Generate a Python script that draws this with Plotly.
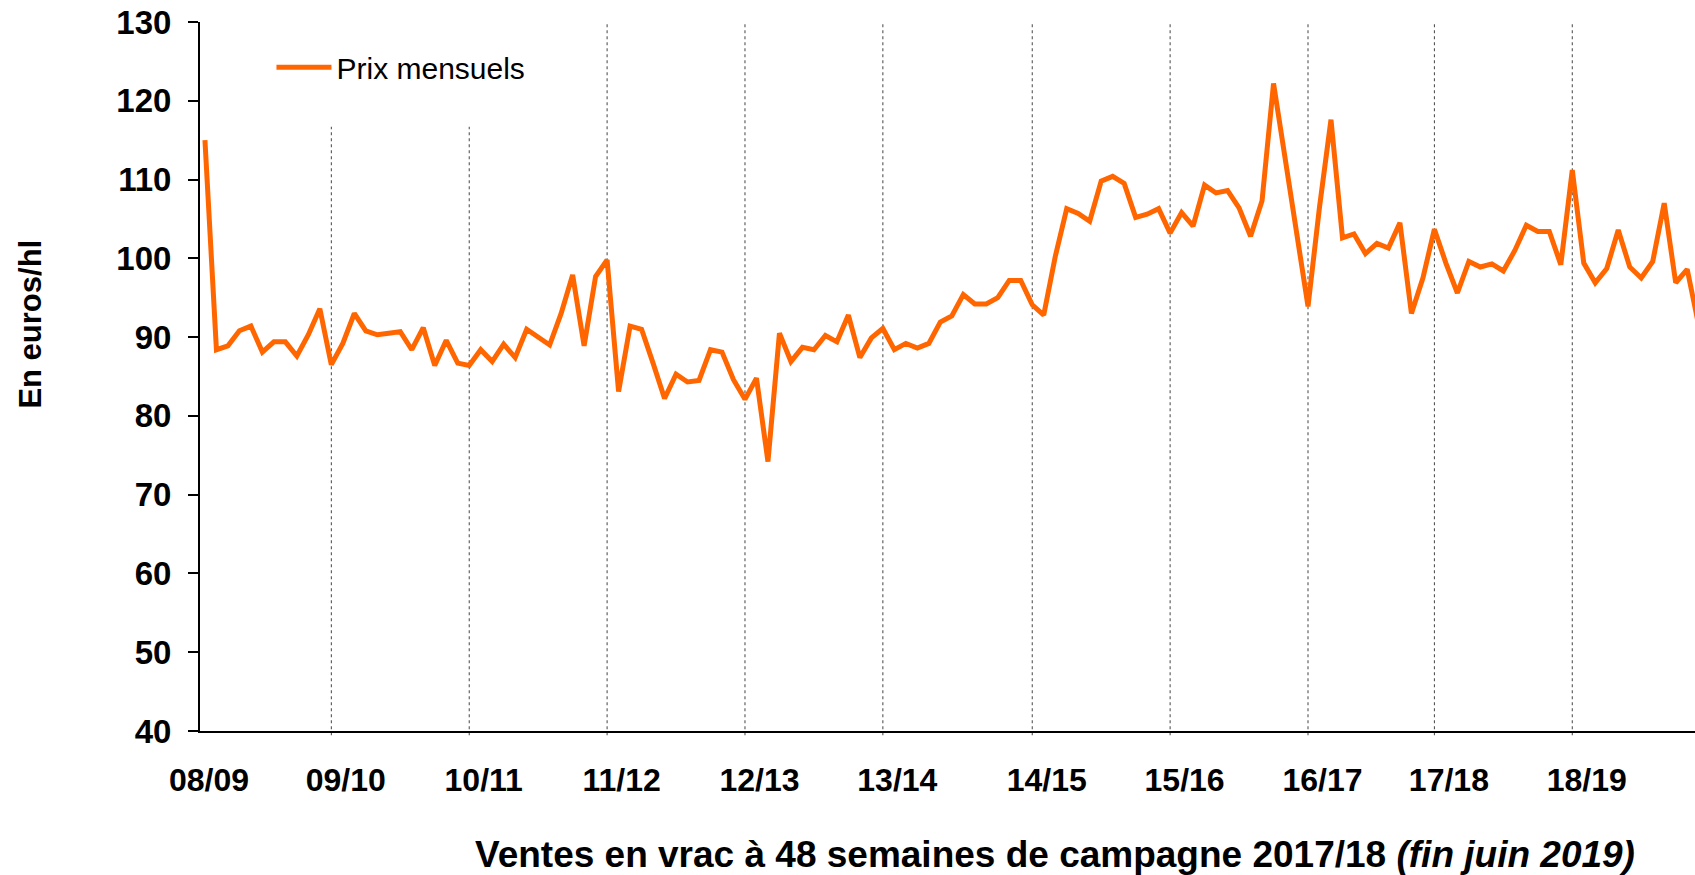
import plotly.graph_objects as go

# monthly bulk prices, euros/hl (one value per month)
prix = [
    115.0, 88.4, 88.9, 90.8, 91.4, 88.1, 89.4, 89.4, 87.6, 90.3, 93.6, 86.5,
    89.2, 93.0, 90.8, 90.3, 90.5, 90.7, 88.4, 91.2, 86.4, 89.6, 86.7, 86.4,
    88.4, 86.9, 89.1, 87.4, 91.0, 90.0, 89.0, 93.0, 97.9, 88.9, 97.7, 99.8,
    83.1, 91.4, 91.0, 86.7, 82.2, 85.3, 84.3, 84.5, 88.4, 88.1, 84.6, 82.1,
    84.8, 74.2, 90.5, 86.9, 88.7, 88.4, 90.2, 89.4, 92.8, 87.4, 89.9, 91.1,
    88.4, 89.2, 88.6, 89.2, 91.9, 92.7, 95.4, 94.2, 94.2, 95.0, 97.2, 97.2,
    94.1, 92.8, 100.2, 106.3, 105.7, 104.7, 109.8, 110.4, 109.5, 105.2, 105.6, 106.3,
    103.2, 105.8, 104.1, 109.3, 108.3, 108.6, 106.4, 102.8, 107.3, 122.2, 112.9, 103.5,
    93.9, 106.5, 117.6, 102.6, 103.1, 100.6, 101.9, 101.3, 104.5, 93.0, 97.5, 103.7,
    99.4, 95.6, 99.6, 98.9, 99.3, 98.4, 101.0, 104.2, 103.4, 103.4, 99.2, 111.2,
    99.4, 96.9, 98.7, 103.6, 98.9, 97.5, 99.6, 107.0, 96.9, 98.6, 91.5,
]
mois = list(range(len(prix)))

# campaign labels, the month index where each campaign line is drawn,
# and where the label sits (labels are set a bit right of the lines)
campagnes = ["08/09", "09/10", "10/11", "11/12", "12/13", "13/14",
             "14/15", "15/16", "16/17", "17/18", "18/19"]
debut_campagne = [-0.43, 11, 23, 35, 47, 59, 72, 84, 96, 107, 119]
pos_etiquette = [0.35] + [d + 1.26 for d in debut_campagne[1:]]
haut_ligne = [None, 116.7, 116.7, 130, 130, 130, 130, 130, 130, 130, 130]

Y_MIN, Y_MAX = 40, 130
FONT = "Liberation Sans, Arial, sans-serif"

fig = go.Figure()
fig.add_trace(go.Scatter(
    x=mois, y=prix, mode="lines", name="Prix mensuels",
    line=dict(color="#FF6600", width=5),
))

# dotted campaign separators (they poke a few px under the axis, like ticks)
for pos, top in zip(debut_campagne[1:], haut_ligne[1:]):
    fig.add_shape(type="line", xref="x", yref="paper", x0=pos, x1=pos,
                  y0=-0.006, y1=(top - Y_MIN) / (Y_MAX - Y_MIN),
                  line=dict(color="#444444", width=1, dash="dot"), layer="below")

fig.update_layout(
    width=1695, height=875,
    margin=dict(l=200, r=0, t=22, b=144),
    plot_bgcolor="white", paper_bgcolor="white",
    font=dict(family=FONT, color="black"),
    showlegend=True,
    legend=dict(x=0.0478, y=0.973, xanchor="left", yanchor="top",
                itemwidth=55,
                font=dict(size=30, family=FONT), bgcolor="rgba(0,0,0,0)"),
    xaxis=dict(
        range=[-0.43, 129.68],
        tickvals=pos_etiquette, ticktext=["<b>%s</b>" % c for c in campagnes],
        tickfont=dict(size=32, family=FONT), ticks="outside", ticklen=4,
        tickcolor="rgba(0,0,0,0)", ticklabelstandoff=16,
        showgrid=False, zeroline=False,
        showline=True, linecolor="black", linewidth=2,
    ),
    yaxis=dict(
        range=[Y_MIN, Y_MAX], dtick=10, tickformat="d",
        tickprefix="<b>", ticksuffix="</b>",
        tickfont=dict(size=33, family=FONT), ticks="outside", ticklen=10,
        tickwidth=2, tickcolor="black", ticklabelstandoff=10,
        showgrid=False, zeroline=False,
        showline=True, linecolor="black", linewidth=2,
    ),
    annotations=[
        dict(text="<b>En euros/hl</b>", xref="paper", yref="paper",
             x=-0.114, y=0.574, xanchor="center", yanchor="middle",
             textangle=-90, showarrow=False,
             font=dict(size=31, family=FONT)),
        dict(text="<b>Ventes en vrac à 48 semaines de campagne 2017/18 <i>(fin juin 2019)</i></b>",
             xref="paper", yref="paper", x=0.572, y=-0.1735,
             xanchor="center", yanchor="middle", showarrow=False,
             font=dict(size=37, family=FONT)),
    ],
)

fig.write_html("out.html", config={"displayModeBar": False},
               post_script="document.body.style.margin='0';")
